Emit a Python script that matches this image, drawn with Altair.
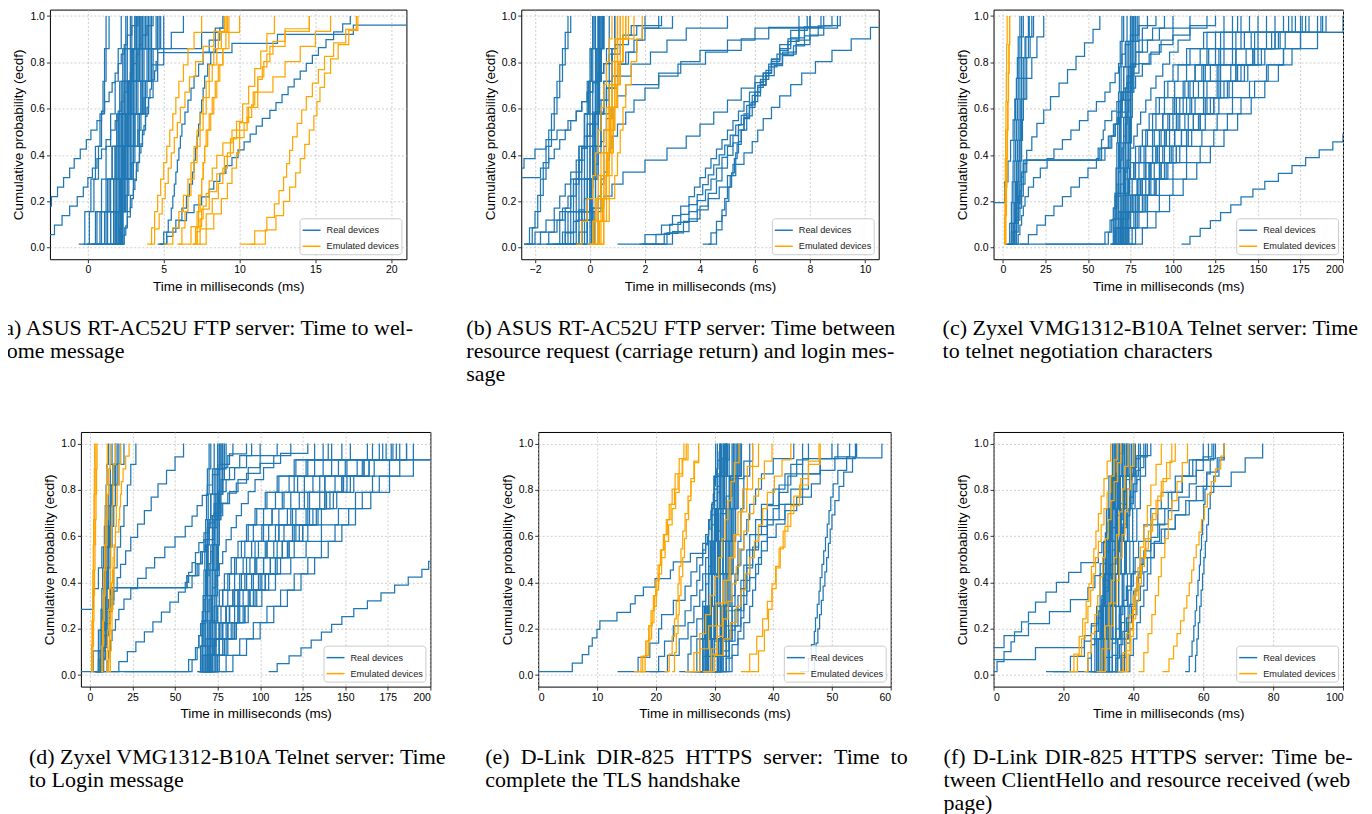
import altair as alt
import pandas as pd

KINDS = ["Real devices", "Emulated devices"]
COLORS = ["#1f77b4", "#ffa500"]
Y_TICKS = [0.0, 0.2, 0.4, 0.6, 0.8, 1.0]

# ---------------- (a) ----------------
A_REAL = [
    [-0.6, -0.2, 0.2, 0.5, 0.8, 1.0, 1.1, 1.2],
    [-0.3, 0.1, 0.4, 0.7, 0.9, 1.1, 1.2, 1.4],
    [0.0, 0.5, 0.9, 1.2, 1.5, 1.8, 2.0, 2.2],
    [0.3, 0.9, 1.3, 1.6, 1.9, 2.1, 2.3, 2.5],
    [0.6, 1.1, 1.5, 1.8, 2.0, 2.2, 2.4, 2.6],
    [0.9, 1.3, 1.7, 1.9, 2.1, 2.3, 2.5, 2.8],
    [1.2, 1.5, 1.8, 2.0, 2.2, 2.4, 2.6, 2.9],
    [1.4, 1.7, 1.9, 2.1, 2.3, 2.5, 2.8, 3.1],
    [1.6, 1.8, 2.0, 2.2, 2.4, 2.7, 3.0, 3.3],
    [1.8, 1.9, 2.1, 2.3, 2.5, 2.8, 3.1, 3.5],
    [2.0, 2.1, 2.2, 2.4, 2.6, 2.9, 3.2, 3.7],
    [2.1, 2.2, 2.2, 2.5, 2.8, 3.1, 3.5, 3.9],
    [2.2, 2.2, 2.3, 2.6, 2.9, 3.3, 3.7, 4.2],
    [2.2, 2.2, 2.4, 2.8, 3.1, 3.5, 3.9, 4.5],
    [2.2, 2.3, 2.5, 2.9, 3.3, 3.7, 4.2, 4.8],
    [1.0, 1.5, 1.9, 2.2, 2.5, 2.9, 3.3, 3.8],
    [0.2, 0.8, 1.4, 1.8, 2.2, 2.6, 3.0, 3.4],
    [1.9, 2.0, 2.2, 2.4, 2.7, 3.0, 3.4, 4.0],
    [2.2, 2.2, 2.3, 2.4, 2.6, 2.8, 3.0, 3.2],
    [2.1, 2.2, 2.3, 2.5, 2.7, 3.0, 3.3, 3.6],
    [2.2, 2.3, 2.6, 3.0, 3.4, 3.8, 4.3, 5.0],
    [1.5, 1.8, 2.1, 2.4, 2.8, 3.2, 3.6, 4.1],
    [0.5, 1.2, 1.7, 2.0, 2.3, 2.6, 2.9, 3.2],
    [1.7, 2.0, 2.2, 2.3, 2.5, 2.7, 2.9, 3.1],
    [2.2, 2.2, 2.2, 2.3, 2.5, 2.7, 3.0, 3.4],
    [-0.1, 0.6, 1.2, 1.6, 2.0, 2.4, 2.9, 3.5],
    [1.3, 1.9, 2.2, 2.6, 3.0, 3.5, 4.0, 4.6],
    [2.0, 2.2, 2.4, 2.7, 3.1, 3.6, 4.1, 4.7],
    [-4.0, -3.8, -3.5, -3.2, -2.8, -2.4, -2.0, -1.6, -1.2, -0.9, -0.5, -0.1, 0.2, 0.6, 0.9, 1.1, 1.4, 1.6, 1.8, 2.0, 2.2, 2.4, 2.6, 2.9, 3.3],
    [-3.5, -2.8, -2.2, -1.7, -1.2, -0.7, -0.3, 0.0, 0.3, 0.6, 0.9, 1.2, 1.5, 1.8, 2.0, 2.2, 2.4, 2.6, 2.8, 3.0, 3.2, 3.4, 3.6, 3.9, 4.3],
    [4.8, 5.2, 5.6, 6.0, 6.5, 7.0, 7.5, 8.0, 8.3, 8.7, 9.1, 9.5, 9.9, 10.3, 10.7, 11.1, 11.5, 12.0, 12.4, 12.8, 13.2, 13.6, 14.0, 14.4, 14.8, 15.2, 15.7, 16.2, 16.8, 17.3],
    [4.6, 5.0, 5.3, 5.5, 5.6, 5.7, 5.8, 5.9, 6.0, 6.1, 6.2, 6.4, 6.6, 6.8, 7.0, 7.3, 7.6, 8.0, 8.4, 8.9],
    [4.7, 5.2, 5.8, 6.2, 6.5, 6.7, 6.9, 7.0, 7.1, 7.2, 7.3, 7.4, 7.5, 7.6, 7.7, 7.9, 8.1, 8.4, 8.7, 9.0],
    [2.0, 2.3, 2.5, 2.6, 2.8, 2.9, 3.0, 3.1, 3.2, 3.3, 3.4, 3.5, 3.6, 3.7, 3.8, 3.9, 4.0, 4.1, 4.2, 4.4, 4.5, 4.6, 9.5, 12.5, 17.5, 30.0],
    [1.8, 2.1, 2.3, 2.5, 2.7, 2.9, 3.1, 3.3, 3.5, 3.7, 3.9, 4.2, 4.6, 7.5, 9.2],
    [2.2, 2.4, 2.6, 2.8, 3.0, 3.2, 3.4, 3.6, 3.8, 4.0, 4.3, 4.6, 5.0, 5.5, 6.3],
]
A_EMUL = [
    [3.9, 4.2, 4.4, 4.6, 4.8, 5.0, 5.2, 5.4, 5.6, 5.8, 6.0, 6.3, 6.6, 7.0, 7.5],
    [4.1, 4.4, 4.7, 4.9, 5.1, 5.3, 5.5, 5.7, 5.9, 6.1, 6.4, 6.7, 7.1, 7.6, 8.3, 9.0],
    [5.0, 5.6, 6.0, 6.3, 6.6, 6.8, 7.0, 7.2, 7.4, 7.6, 7.8, 8.0, 8.3, 8.6, 9.2],
    [5.9, 6.2, 6.4, 6.6, 6.8, 7.0, 7.2, 7.4, 7.6, 7.8, 8.0, 8.2, 8.5, 8.8, 9.1],
    [6.9, 7.1, 7.2, 7.3, 7.5, 7.6, 7.7, 7.8, 8.0, 8.2, 8.4, 8.6, 8.9, 9.3, 10.0],
    [7.0, 7.2, 7.3, 7.4, 7.5, 7.6, 7.7, 7.9, 8.1, 8.3, 8.5, 8.7, 8.9, 9.1, 9.3],
    [6.9, 7.2, 7.4, 7.6, 7.8, 8.0, 8.2, 8.5, 8.9, 9.5, 10.5, 10.8, 11.0, 11.2, 11.5, 11.8, 12.2, 13.0, 14.6],
    [10.0, 11.0, 11.8, 12.3, 12.6, 12.9, 13.1, 13.3, 13.5, 13.8, 14.1, 14.4, 14.8, 15.2, 15.6, 16.2, 17.0, 17.7],
    [10.7, 11.7, 12.4, 12.9, 13.3, 13.7, 14.0, 14.3, 14.6, 14.9, 15.1, 15.3, 15.6, 16.0, 16.5, 17.2, 17.8],
    [7.3, 7.8, 8.3, 8.8, 9.2, 9.5, 9.8, 10.0, 10.3, 10.6, 10.9, 11.2, 11.6, 12.0, 13.0, 14.6],
    [6.0, 6.8, 7.5, 8.0, 8.5, 9.0, 9.4, 9.8, 10.2, 10.6, 11.0, 11.4, 11.8, 12.3],
    [7.0, 7.4, 7.8, 8.2, 8.6, 8.9, 9.2, 9.6, 10.0, 10.5, 11.2, 12.2, 13.0, 14.0, 15.0, 16.0],
]

# ---------------- (b) ----------------
B_REAL = [
    [-1.2, -0.8, -0.5, -0.3, -0.2, -0.1, 0.0, 0.1],
    [-1.0, -0.6, -0.3, -0.1, 0.0, 0.1, 0.2, 0.3],
    [-0.8, -0.4, -0.2, 0.0, 0.1, 0.2, 0.3, 0.4],
    [-0.6, -0.3, -0.1, 0.1, 0.2, 0.3, 0.4, 0.5],
    [-0.4, -0.2, 0.0, 0.1, 0.2, 0.3, 0.4, 0.5],
    [-0.3, -0.1, 0.0, 0.1, 0.2, 0.3, 0.35, 0.4],
    [-0.2, -0.1, 0.0, 0.1, 0.15, 0.2, 0.25, 0.3],
    [-0.1, 0.0, 0.05, 0.1, 0.15, 0.2, 0.25, 0.3],
    [0.0, 0.05, 0.1, 0.15, 0.2, 0.25, 0.3, 0.35],
    [0.1, 0.15, 0.2, 0.25, 0.3, 0.35, 0.4, 0.45],
    [-1.3, -0.9, -0.6, -0.4, -0.2, 0.0, 0.1, 0.2],
    [-0.9, -0.5, -0.2, 0.0, 0.2, 0.3, 0.4, 0.5],
    [-0.5, -0.3, -0.1, 0.1, 0.3, 0.5, 0.7, 0.9],
    [-0.7, -0.3, 0.0, 0.2, 0.4, 0.6, 0.8, 1.0],
    [0.0, 0.1, 0.2, 0.3, 0.4, 0.5, 0.6, 0.7],
    [0.2, 0.3, 0.4, 0.5, 0.6, 0.7, 0.8, 0.9],
    [-1.6, -1.1, -0.7, -0.4, -0.2, -0.05, 0.05, 0.15],
    [-1.1, -0.7, -0.4, -0.2, -0.1, 0.0, 0.05, 0.1],
    [-2.4, -2.2, -2.0, -1.9, -1.8, -1.7, -1.6, -1.5, -1.4, -1.3, -1.2, -1.1, -1.0, -0.9, -0.8],
    [-2.3, -2.1, -1.9, -1.8, -1.7, -1.6, -1.5, -1.4, -1.3, -1.2, -1.1, -1.0, -0.9, -0.8, -0.7],
    [-4.5, -4.2, -4.0, -3.8, -3.5, -3.2, -3.0, -2.8, -2.6, -2.4, -2.0, -1.6, -1.2, -0.8, -0.5, -0.3, -0.1, 0.1, 0.3, 0.5, 0.8, 1.1, 1.4, 1.7, 2.0],
    [-4.4, -4.0, -3.7, -3.4, -3.1, -2.9, -2.7, -2.6, -1.8, -1.5, -1.3, -1.1, -0.9, -0.7, -0.5, -0.3, -0.1, 0.1, 0.3, 0.5, 0.7, 0.9, 1.2, 1.5, 2.6],
    [-2.3, -2.0, -1.6, -1.3, -1.1, -0.9, -0.7, -0.5, -0.3, -0.1, 0.1, 0.3, 0.5, 0.7, 0.9, 1.1, 1.4, 1.7, 2.0, 3.0],
    [-1.9, -1.5, -1.2, -0.9, -0.7, -0.5, -0.4, -0.3, -0.2, -0.1, 0.0, 0.2, 0.4, 0.6, 0.8, 1.0, 1.3, 1.6, 1.9, 2.5],
    [-2.4, -1.8, -1.3, -1.0, -0.8, -0.6, -0.5, -0.4, -0.3, -0.2, -0.1, 0.1, 0.3, 0.6, 1.0, 1.5, 2.2, 2.8, 3.5, 5.0],
    [-1.4, -0.9, -0.6, -0.4, -0.2, 0.0, 0.1, 0.2, 0.3, 0.4, 0.5, 0.6, 0.8, 1.0, 1.3, 2.5, 3.3, 4.0, 5.5, 6.5, 8.4],
    [-1.5, -1.0, -0.5, 0.0, 0.5, 0.8, 1.2, 2.0, 2.8, 3.5, 4.0, 4.5, 5.0, 5.5, 6.0, 6.5, 7.0, 7.5, 8.0, 9.0],
    [-0.8, -0.4, -0.1, 0.1, 0.3, 0.4, 0.5, 0.6, 0.7, 0.8, 1.0, 1.3, 1.6, 2.0, 2.5, 3.2, 4.2, 5.0, 6.0, 7.6],
    [1.0, 2.0, 2.6, 3.0, 3.3, 3.6, 3.8, 4.0, 4.2, 4.4, 4.6, 4.8, 5.0, 5.2, 5.4, 5.6, 5.8, 6.0, 6.3, 6.6, 7.0, 7.5, 8.0, 8.5, 9.1],
    [1.8, 2.4, 2.9, 3.3, 3.6, 3.9, 4.1, 4.3, 4.5, 4.7, 4.9, 5.1, 5.3, 5.5, 5.7, 5.9, 6.1, 6.4, 6.7, 7.0, 7.4, 7.8, 8.3, 8.8],
    [2.0, 2.7, 3.2, 3.6, 3.9, 4.2, 4.4, 4.6, 4.8, 5.0, 5.2, 5.4, 5.6, 5.8, 6.0, 6.2, 6.4, 6.6, 6.9, 7.3, 7.8, 8.5],
    [4.1, 4.4, 4.6, 4.8, 4.9, 5.0, 5.1, 5.2, 5.3, 5.4, 5.5, 5.6, 5.8, 6.0, 6.2, 6.4, 6.6, 6.9, 7.2, 7.6, 8.0],
    [4.3, 4.6, 4.8, 4.95, 5.05, 5.15, 5.25, 5.35, 5.5, 5.7, 5.9, 6.1, 6.3, 6.6, 6.9, 7.3, 7.9],
    [1.9, 2.8, 3.4, 3.9, 4.3, 4.7, 5.0, 5.3, 5.6, 5.9, 6.1, 6.3, 6.6, 6.9, 7.3, 7.7, 8.2, 8.8, 9.5, 10.2, 11.0],
    [2.2, 3.0, 3.6, 4.0, 4.3, 4.6, 4.8, 5.0, 5.2, 5.4, 5.6, 5.8, 6.0, 6.2, 6.5, 6.8, 7.2, 7.6, 8.0],
]
B_EMUL = [
    [-0.5, -0.3, -0.1, 0.1, 0.2, 0.3, 0.4, 0.5, 0.6, 0.7, 0.8],
    [0.0, 0.1, 0.2, 0.3, 0.4, 0.5, 0.6, 0.7, 0.8, 0.9, 1.0],
    [0.1, 0.2, 0.3, 0.4, 0.5, 0.6, 0.7, 0.8, 0.9, 1.0, 1.1],
    [0.2, 0.3, 0.4, 0.5, 0.6, 0.7, 0.8, 0.9, 1.0, 1.1, 1.3],
    [0.3, 0.4, 0.5, 0.6, 0.7, 0.8, 0.9, 1.0, 1.1, 1.2, 1.4],
    [0.3, 0.5, 0.7, 0.9, 1.0, 1.1, 1.2, 1.3, 1.5, 1.7, 1.9],
    [0.4, 0.5, 0.6, 0.7, 0.8, 0.85, 0.9, 1.0, 1.1, 1.2, 1.3],
    [0.2, 0.35, 0.5, 0.6, 0.65, 0.7, 0.75, 0.8, 0.9, 1.0, 1.2],
    [0.1, 0.3, 0.45, 0.55, 0.65, 0.75, 0.85, 0.95, 1.05, 1.2, 1.6],
    [-0.1, 0.1, 0.25, 0.4, 0.5, 0.6, 0.7, 0.8, 0.9, 1.0, 1.1],
]

# ---------------- (c) ----------------
C_REAL = [
    [1.0, 4.0, 5.0, 5.5, 6.0, 6.5, 7.0, 7.5, 8.0, 8.5, 9.0, 10.0],
    [3.0, 5.0, 6.0, 6.5, 7.0, 7.5, 8.0, 8.5, 9.0, 10.0, 11.0, 12.0],
    [5.0, 6.0, 7.0, 7.5, 8.0, 8.5, 9.0, 9.5, 10.0, 11.0, 13.0, 15.0],
    [6.0, 7.0, 8.0, 9.0, 9.5, 10.0, 10.5, 11.0, 12.0, 13.0, 15.0, 17.0],
    [7.0, 8.0, 9.0, 10.0, 10.5, 11.0, 11.5, 12.0, 13.0, 14.0, 16.0, 18.0],
    [-9, -8, -7, 1.0, 3.0, 4.5, 6.0, 7.0, 8.0, 9.0, 10.0, 11.0],
    [4.0, 6.0, 7.0, 8.0, 9.0, 10.0, 11.0, 12.0, 14.0, 17.0, 20.0, 24.0],
    [5.5, 6.5, 7.5, 8.5, 9.0, 9.5, 10.0, 10.5, 11.0, 12.0, 13.5, 15.5],
    [2, 5, 7, 8, 9, 10, 11, 12, 58, 62, 65, 67, 69, 71, 73, 75, 78, 82, 88, 95],
    [3, 6, 8, 9, 10, 11, 12, 13, 60, 64, 66, 68, 70, 72, 74, 76, 80, 85, 92, 100],
    [4, 7, 9, 10, 11, 12, 13, 14, 56, 63, 66, 69, 72, 75, 78, 82, 87, 93, 100, 110],
    [3, 62, 64, 65, 66, 67, 68, 69, 70, 71, 72, 73, 74, 75, 76, 77, 78, 80, 82, 85],
    [25, 60, 63, 65, 67, 69, 71, 73, 75, 77, 79, 81, 84, 87, 90, 94, 98, 103, 110, 120],
    [5, 7, 8, 9, 10, 11, 12, 14, 17, 20, 24, 28, 33, 38, 43, 48, 53, 57],
    [7, 9, 10, 11, 12, 13, 15, 18, 22, 26, 30, 35, 40, 45, 50, 55, 60, 63, 66, 68, 70, 72, 75, 80, 90],
    [10, 15, 20, 25, 30, 35, 40, 45, 50, 55, 57, 58, 59, 60, 64, 67, 70, 73, 76, 80, 86, 92, 100, 110, 125],
    [63, 65, 66, 67, 68, 68.5, 69, 69.5, 70, 71],
    [64, 66, 67, 68, 69, 69.5, 70, 71, 72, 73],
    [65, 67, 68, 69, 70, 71, 72, 73, 74, 75],
    [66, 68, 69, 70, 71, 72, 73, 74, 75, 76],
    [67, 69, 70, 71, 72, 73, 74, 75, 76, 78],
    [68, 70, 71, 72, 73, 74, 75, 76, 78, 80],
    [70, 71, 72, 73, 74, 75, 76, 77, 78, 79],
    [72, 73, 74, 74.5, 75, 75.5, 76, 76.5, 77, 78],
    [64, 65, 66, 66.5, 67, 67.5, 68, 68.5, 69, 70],
    [69, 70, 71, 71.5, 72, 72.5, 73, 74, 75, 77],
    [71, 72, 73, 73.5, 74, 74.5, 75, 75.5, 76, 77],
    [65, 66, 67, 68, 68.5, 69, 70, 71, 73, 76],
    [64, 66, 68, 70, 72, 75, 78, 82, 86, 90, 95, 100, 108, 118, 130],
    [65, 67, 69, 71, 74, 77, 81, 85, 90, 95, 101, 108, 116, 125, 140],
    [66, 68, 70, 73, 76, 80, 84, 89, 94, 100, 106, 113, 121, 130, 145],
    [67, 69, 72, 75, 79, 83, 88, 93, 98, 104, 110, 117, 125, 135, 150],
    [68, 70, 73, 77, 81, 86, 91, 96, 102, 108, 115, 122, 130, 140, 160],
    [69, 72, 75, 79, 84, 89, 95, 101, 107, 113, 120, 128, 137, 148, 170],
    [70, 73, 77, 82, 87, 93, 99, 105, 112, 119, 126, 134, 143, 155, 180],
    [71, 74, 78, 83, 89, 95, 102, 109, 116, 124, 132, 140, 150, 162, 187],
    [66, 68, 70, 72, 74, 77, 80, 84, 88, 92, 97, 103, 110, 120, 135],
    [68, 71, 74, 78, 82, 87, 92, 98, 104, 111, 118, 126, 135, 146, 165],
    [72, 76, 80, 85, 90, 96, 102, 108, 115, 122, 130, 138, 147, 158, 175],
    [64, 66, 68, 71, 74, 78, 83, 88, 94, 101, 109, 118, 128, 142, 190],
    [67, 70, 73, 76, 80, 84, 88, 92, 97, 102, 107, 113, 120, 128, 138],
    [70, 72, 75, 78, 82, 86, 90, 95, 100, 106, 112, 119, 127, 137, 155],
    [65, 68, 71, 75, 79, 84, 90, 96, 103, 110, 118, 127, 137, 150, 168],
    [67, 71, 75, 80, 86, 92, 98, 105, 112, 120, 128, 137, 147, 160, 178],
    [69, 73, 78, 84, 90, 97, 104, 111, 119, 127, 135, 144, 154, 166, 185],
    [66, 69, 72, 76, 81, 87, 94, 101, 109, 118, 127, 137, 148, 160, 172],
    [70, 74, 79, 85, 92, 100, 108, 117, 126, 135, 145, 155, 165, 175, 188],
    [68, 71, 75, 80, 86, 93, 100, 108, 116, 124, 133, 142, 152, 163, 176],
    [73, 78, 85, 92, 100, 108, 116, 124, 132, 140, 148, 156, 165, 175, 200],
    [75, 82, 90, 98, 106, 114, 122, 130, 138, 146, 154, 162, 170, 185, 215],
    [105, 110, 116, 122, 128, 134, 140, 147, 154, 162, 170, 178, 186, 194, 200, 210, 220, 230, 240, 250, 260, 270, 280, 290, 300, 310, 320, 330, 340, 350],
]
C_EMUL = [
    [0.8, 1.0, 1.2, 1.4, 1.6, 1.8, 2.0, 2.2, 2.5],
    [1.0, 1.3, 1.6, 2.0, 2.4, 2.8, 3.2, 3.6, 4.0],
    [1.5, 1.8, 2.1, 2.4, 2.7, 3.0, 3.3, 3.6, 3.9],
]

# ---------------- (d) ----------------
D_REAL = [
    [3, 5, 6, 6.5, 7, 7.5, 8, 8.5, 9, 9.5, 10, 11],
    [4, 6, 7, 7.5, 8, 8.5, 9, 9.5, 10, 11, 12, 13],
    [5, 7, 8, 8.5, 9, 9.5, 10, 10.5, 11, 12, 13.5, 15],
    [6, 8, 9, 9.5, 10, 10.5, 11, 11.5, 12, 13, 14.5, 16],
    [2, 7, 8, 9, 10, 11, 12, 13, 14, 15, 16, 18],
    [-9, -8, -7, -6, 2, 5, 7, 9, 11, 13, 15, 17],
    [4, 5, 8, 10, 12, 14, 16, 18, 20, 22, 24, 27],
    [-8, 2, 5, 7, 8, 9, 10, 11, 12, 13, 14, 15],
    [5, 6, 7, 8, 9, 10, 11, 12, 13, 15, 17, 20],
    [2, 5, 7, 8, 9, 10, 11, 12, 57, 62, 65, 67, 69, 71, 73, 75, 78, 82, 88, 95],
    [3, 6, 8, 9, 10, 11, 12, 13, 60, 64, 66, 68, 70, 72, 74, 76, 80, 85, 92, 100],
    [4, 7, 9, 10, 11, 12, 13, 14, 57, 63, 66, 69, 72, 75, 78, 82, 87, 93, 100, 110],
    [3, 60, 63, 64, 65, 66, 67, 68, 69, 70, 71, 72, 73, 74, 75, 76, 77, 79, 81, 84],
    [20, 58, 62, 64, 66, 68, 70, 72, 74, 76, 78, 80, 83, 86, 89, 93, 97, 102, 108, 118],
    [6, 8, 9, 10, 11, 12, 14, 16, 18, 21, 24, 28, 32, 36, 40, 45, 50, 55],
    [8, 10, 11, 12, 13, 15, 17, 20, 24, 28, 33, 38, 44, 50, 56, 60, 63, 66, 69, 72, 76, 82, 92],
    [12, 17, 22, 27, 32, 37, 42, 47, 52, 56, 58, 60, 62, 64, 67, 70, 73, 77, 81, 86, 92, 100, 112, 128],
    [63, 65, 66, 67, 68, 68.5, 69, 69.5, 70, 71],
    [64, 66, 67, 68, 69, 69.5, 70, 71, 72, 73],
    [65, 67, 68, 69, 70, 71, 72, 73, 74, 75],
    [66, 68, 69, 70, 71, 72, 73, 74, 75, 76],
    [67, 69, 70, 71, 72, 73, 74, 75, 76, 78],
    [68, 70, 71, 72, 73, 74, 75, 76, 78, 80],
    [70, 71, 72, 73, 74, 75, 76, 77, 78, 79],
    [72, 73, 74, 74.5, 75, 75.5, 76, 76.5, 77, 78],
    [64, 65, 66, 66.5, 67, 67.5, 68, 68.5, 69, 70],
    [69, 70, 71, 71.5, 72, 72.5, 73, 74, 75, 77],
    [71, 72, 73, 73.5, 74, 74.5, 75, 75.5, 76, 77],
    [65, 66, 67, 68, 68.5, 69, 70, 71, 73, 76],
    [64, 66, 68, 70, 73, 76, 79, 83, 87, 92, 97, 103, 110, 120, 132],
    [65, 67, 69, 72, 75, 78, 82, 86, 91, 96, 102, 109, 117, 127, 142],
    [66, 68, 71, 74, 77, 81, 85, 90, 95, 101, 107, 114, 122, 132, 148],
    [67, 70, 73, 76, 80, 84, 89, 94, 99, 105, 111, 118, 126, 137, 153],
    [68, 71, 74, 78, 82, 87, 92, 97, 103, 109, 116, 123, 131, 142, 163],
    [69, 72, 76, 80, 85, 90, 96, 102, 108, 114, 121, 129, 138, 150, 172],
    [70, 74, 78, 83, 88, 94, 100, 106, 113, 120, 127, 135, 144, 157, 182],
    [71, 75, 79, 84, 90, 96, 103, 110, 117, 125, 133, 141, 151, 164, 186],
    [66, 68, 70, 72, 75, 78, 81, 85, 89, 93, 98, 104, 111, 121, 137],
    [68, 71, 74, 78, 82, 87, 92, 98, 104, 111, 118, 126, 135, 146, 166],
    [72, 76, 81, 86, 91, 97, 103, 109, 116, 123, 131, 139, 148, 160, 177],
    [67, 70, 73, 76, 80, 84, 88, 92, 97, 102, 107, 113, 120, 128, 140],
    [65, 68, 72, 76, 80, 85, 91, 97, 104, 111, 119, 128, 138, 151, 170],
    [67, 71, 76, 81, 87, 93, 99, 106, 113, 121, 129, 138, 148, 161, 180],
    [69, 74, 79, 85, 91, 98, 105, 112, 120, 128, 136, 145, 155, 167, 186],
    [66, 69, 73, 77, 82, 88, 95, 102, 110, 119, 128, 138, 149, 161, 174],
    [70, 75, 80, 86, 93, 101, 109, 118, 127, 136, 146, 156, 166, 176, 190],
    [68, 72, 76, 81, 87, 94, 101, 109, 117, 125, 134, 143, 153, 164, 178],
    [74, 80, 88, 96, 104, 112, 120, 128, 136, 144, 152, 160, 170, 182, 205],
    [77, 84, 92, 100, 108, 116, 124, 132, 140, 148, 156, 165, 176, 190, 230],
    [105, 110, 117, 124, 130, 136, 142, 148, 155, 163, 171, 179, 187, 195, 199, 205, 215, 225, 235, 245, 255, 265, 275, 285, 295, 305, 315, 325, 335, 345],
]
D_EMUL = [
    [1.0, 1.2, 1.4, 1.6, 1.8, 2.0, 2.2, 2.4, 2.6, 2.8],
    [1.5, 1.8, 2.1, 2.4, 2.7, 3.0, 3.3, 3.6, 3.9, 4.2],
    [0.8, 1.0, 1.3, 1.6, 1.9, 2.2, 2.5, 2.8, 3.1, 3.5],
    [6.5, 7.0, 7.4, 7.8, 8.2, 8.6, 9.0, 9.4, 9.8, 10.2],
    [7.0, 7.5, 8.0, 8.5, 9.0, 9.5, 10.0, 10.5, 11.0, 12.0],
    [9.5, 10, 10.5, 11, 11.5, 12, 12.3, 12.6, 13, 13.5, 14, 15],
    [10.5, 11, 11.3, 11.6, 11.9, 12.2, 12.5, 12.8, 13.2, 13.6, 14.2, 15, 17, 17.5, 18, 18.5, 19.5, 21, 23],
    [11.5, 12, 12.5, 13, 13.5, 14, 14.5, 15, 15.5, 16, 17, 18],
]

# ---------------- (e) ----------------
E_REAL = [
    [25, 27, 28, 28.5, 29, 29.5, 30, 30.5],
    [26, 28, 28.5, 29, 29.5, 30, 30.5, 31],
    [27, 28.5, 29, 29.5, 30, 30.5, 31, 31.5],
    [28, 29, 29.5, 30, 30.5, 31, 31.5, 32],
    [28.5, 29.5, 30, 30.5, 31, 31.5, 32, 32.5],
    [29, 30, 30.5, 31, 31.5, 32, 32.5, 33],
    [29.5, 30.5, 31, 31.5, 32, 32.5, 33, 33.5],
    [30, 31, 31.5, 32, 32.5, 33, 33.5, 34],
    [31, 31.5, 32, 32.5, 33, 33.5, 34, 34.5],
    [27.5, 28.2, 28.6, 29, 29.3, 29.6, 29.9, 30.2],
    [28.2, 28.8, 29.2, 29.6, 30, 30.4, 30.8, 31.2],
    [29.8, 30.5, 31.2, 31.8, 32.3, 32.8, 33.3, 33.8],
    [26.5, 27.5, 28.3, 29, 29.7, 30.3, 31, 31.8],
    [32, 32.5, 33, 33.5, 34, 34.5, 35, 36],
    [28.8, 29.4, 29.9, 30.3, 30.7, 31.1, 31.6, 32.2],
    [30.5, 31.2, 31.8, 32.3, 32.8, 33.2, 33.7, 34.3],
    [27, 28, 28.8, 29.5, 30.1, 30.7, 31.3, 32],
    [28.5, 29, 29.3, 29.6, 29.9, 30.2, 30.5, 30.9],
    [29.2, 29.7, 30.1, 30.5, 30.9, 31.3, 31.7, 32.1],
    [30.2, 30.7, 31.1, 31.5, 31.9, 32.3, 32.7, 33.2],
    [28, 28.6, 29.1, 29.6, 30.1, 30.6, 31.1, 31.7],
    [31.5, 32, 32.4, 32.8, 33.2, 33.6, 34, 34.6],
    [29, 29.6, 30.2, 30.8, 31.4, 32, 32.6, 33.3],
    [27.8, 28.4, 29, 29.5, 30, 30.5, 31, 31.5],
    [30.8, 31.3, 31.7, 32.1, 32.5, 32.9, 33.4, 34],
    [25.5, 28, 30, 31, 32, 33, 33.5, 34, 34.5, 35, 35.5, 36, 37, 38, 40, 43.5],
    [27, 29.5, 31, 32, 33, 34, 34.5, 35, 35.5, 36, 37, 38, 40, 42, 45, 51],
    [29.5, 31, 32.5, 33.5, 34.5, 35, 35.5, 36, 36.5, 37.5, 39, 41, 43, 45, 48, 54],
    [30, 32, 33, 34, 34.5, 35, 35.5, 36, 37, 38, 39, 40.5, 42, 44, 46.5, 48, 50.5, 53],
    [30, 31, 32, 33, 34, 34.5, 35, 35.5, 36, 37, 38, 42, 45, 46, 48, 50],
    [31, 33, 34, 35, 36, 36.5, 37, 37.5, 38, 39, 40, 41, 42.5, 44, 46],
    [29, 31, 32.5, 33.5, 34.5, 35.5, 36.5, 37.5, 39, 41, 43, 45],
    [-2, 5.8, 7.5, 8.6, 9.2, 10.0, 10.5, 13.4, 15.7, 16.5, 17.9, 19.9, 22.5, 23.0, 25.9, 28.5, 28.8, 29.0, 29.2, 29.4, 29.6, 29.8, 30.0, 30.2, 30.4, 30.6, 30.8, 31.0],
    [13.5, 17, 19, 20.5, 21, 23, 25, 26, 27, 28, 29, 29.5, 30, 30.5, 31, 31.5, 32],
    [17.5, 20.5, 21.5, 23, 25, 26, 27, 27.5, 28, 28.5, 29, 29.5, 30, 30.5, 31, 32],
    [19, 22, 24, 25.5, 26.5, 27.5, 28, 28.5, 29, 29.5, 30, 30.5, 31, 31.5, 32.5],
    [24, 25.5, 26, 27, 28, 28.5, 29, 29.5, 30, 31, 32, 33, 35, 36.5],
    [44.5, 46.0, 46.5, 47.0, 47.2, 47.5, 47.8, 48.0, 48.3, 48.6, 48.9, 49.2, 49.5, 49.8, 50.2, 51, 52.5, 54.2],
    [46.5, 47, 47.3, 47.6, 47.9, 48.2, 48.5, 48.8, 49.1, 49.4, 49.7, 50.0, 50.5, 51.2, 52, 53.5, 58.5],
]
E_EMUL = [
    [16.3, 17.5, 18.3, 18.8, 19.2, 19.6, 20.0, 20.4, 20.8, 21.3, 21.8, 22.3, 22.8, 23.3, 24.0, 24.8],
    [16.8, 17.8, 18.5, 19.0, 19.4, 19.8, 20.2, 20.6, 21.0, 21.5, 22.0, 22.6, 23.2, 23.8, 24.5, 25.2],
    [17.3, 18.2, 18.8, 19.3, 19.7, 20.1, 20.5, 21.0, 21.6, 22.2, 22.8, 23.4, 24.0, 24.6, 25.5],
    [21.5, 22.3, 22.8, 23.2, 23.5, 23.8, 24.0, 24.3, 24.6, 25.0, 25.5, 26.0, 26.5, 27.3],
    [22.8, 23.2, 23.5, 23.8, 24.0, 24.3, 24.6, 24.9, 25.2, 25.6, 26.0, 26.6, 27.3],
    [25.0, 26.5, 27.5, 28.5, 29.3, 30.0, 30.7, 31.3, 31.8, 32.3, 32.8, 33.4, 34.2],
    [28.0, 29.5, 30.5, 31.5, 32.3, 33.0, 33.7, 34.3, 35.0, 35.8, 36.7, 37.5, 38.5, 39.8],
    [28.2, 30.0, 31.5, 32.7, 33.7, 34.5, 35.3, 36.0, 36.8, 37.5, 38.2, 39.0, 40.2, 41.5, 43.0],
    [34.5, 36.0, 37.2, 38.2, 39.0, 39.8, 40.4, 41.0, 41.7, 42.5, 43.5, 44.7, 46.0, 47.8],
    [35.5, 37.5, 38.5, 39.2, 39.8, 40.5, 41.2, 42.0, 43.0, 44.5, 46.0, 48.0],
    [25.5, 27.5, 29.0, 30.3, 31.5, 32.5, 33.5, 34.5, 35.5, 36.5, 37.5],
    [28.3, 29.5, 30.5, 31.3, 32.0, 32.7, 33.3, 34.0, 34.8, 35.6, 36.5],
]

# ---------------- (f) ----------------
F_REAL = [
    [26.5, 28, 29.5, 30.5, 31.5, 32.3, 33, 34],
    [27, 29, 30.5, 31.5, 32.3, 33, 33.8, 34.5],
    [28, 30, 31, 32, 32.8, 33.5, 34.3, 35],
    [29, 30.5, 31.5, 32.5, 33.3, 34, 34.8, 35.5],
    [30, 31.5, 32.5, 33.3, 34, 34.8, 35.5, 36.5],
    [30.5, 32, 33, 34, 34.8, 35.5, 36.3, 37],
    [31.5, 33, 34, 34.8, 35.5, 36.3, 37, 38],
    [32.5, 34, 35, 35.8, 36.5, 37.3, 38, 39],
    [33.5, 35, 36, 36.8, 37.5, 38.3, 39, 40],
    [35, 36.5, 37.5, 38.3, 39, 39.8, 40.5, 41.5],
    [36.5, 37.5, 38.5, 39.3, 40, 41, 42, 43.5],
    [27.5, 29.5, 31, 32, 33, 34, 35, 36],
    [29.5, 31, 32.2, 33.2, 34, 35, 36, 37.5],
    [31, 32.5, 33.5, 34.5, 35.5, 36.5, 37.5, 38.5],
    [28.5, 30, 31.2, 32.2, 33, 33.8, 34.6, 35.6],
    [32, 33.2, 34.2, 35, 35.8, 36.6, 37.4, 38.4],
    [34, 35.5, 36.5, 37.3, 38, 38.8, 39.6, 40.6],
    [29, 30, 31, 31.8, 32.5, 33.2, 34, 35],
    [30, 31, 32, 32.8, 33.5, 34.2, 35, 36],
    [31, 32, 33, 33.8, 34.5, 35.2, 36, 37],
    [32, 33, 34, 34.8, 35.5, 36.2, 37, 38],
    [33, 34, 35, 35.8, 36.5, 37.2, 38, 39.5],
    [28, 29.5, 30.5, 31.3, 32, 32.8, 33.6, 34.5],
    [34.5, 35.5, 36.3, 37, 37.7, 38.4, 39.2, 40.2],
    [30.5, 31.5, 32.4, 33.2, 34, 34.8, 35.7, 36.8],
    [32, 34, 35.5, 36.5, 37.5, 38.5, 39.5, 40.5, 41.5, 43, 45, 48, 52, 56, 60],
    [35, 36.5, 37.5, 38.5, 39.5, 40.5, 41.5, 42.5, 43.5, 45, 47, 50, 54, 58, 63],
    [38, 39, 40, 41, 42, 43, 44, 45, 46, 47.5, 49, 51, 54, 57, 61.5],
    [30, 32, 34, 35, 36, 37, 38, 40, 42, 45, 48, 52, 56, 60, 68, 72, 77],
    [33, 35, 36, 37, 38, 39, 40, 41, 42, 43, 45, 47, 50, 53, 56, 58, 60, 62.5],
    [35, 37, 38, 39, 40, 41, 42, 43, 44, 46, 49, 52, 55, 58, 61, 64, 66],
    [-3, 1, 3, 5, 6, 8, 10, 12, 15, 18, 21.5, 25, 30, 31, 32, 32.5, 33, 33.5, 34, 34.5, 35, 35.5, 36, 37],
    [-6, -5, 12, 26, 28, 30, 31, 32, 33, 34, 35, 36, 37, 38, 39, 40, 41, 42, 43, 45],
    [-6, -4, -2, 3, 10, 16, 22, 27, 29, 30.5, 32, 33, 34, 35, 36, 37, 38, 39.5, 41, 43],
    [15, 27, 28, 29, 30, 31, 32, 33, 34, 35, 36, 37, 38, 39, 40, 41, 42, 44],
    [17, 22, 26, 28, 29.5, 31, 32, 33, 34, 35, 36, 37, 38, 39, 40.5, 42],
    [54.8, 56, 56.8, 57.3, 57.7, 58.1, 58.5, 58.9, 59.2, 59.5, 59.8, 60.1, 60.5, 61, 62, 63.5],
    [57.4, 57.8, 58.2, 58.6, 59, 59.4, 59.8, 60.2, 60.6, 61, 61.5, 62, 63, 64.5, 66],
]
F_EMUL = [
    [21.5, 23, 24.5, 25.5, 26.5, 27.3, 28, 28.7, 29.3, 30, 30.8, 31.6, 32.5, 33.5],
    [22.8, 24, 25.2, 26.2, 27, 27.8, 28.5, 29.2, 30, 30.8, 31.6, 32.5, 33.5, 34.5, 35.5],
    [26, 27, 28, 29, 29.8, 30.5, 31.2, 32, 32.8, 33.6, 34.5, 35.5, 36.5],
    [29.5, 31, 32, 33, 33.8, 34.5, 35.2, 36, 36.8, 37.5, 38.5],
    [30.5, 32, 33.3, 34.3, 35.2, 36, 36.8, 37.6, 38.4, 39.2, 40.2],
    [37, 38, 39, 39.8, 40.5, 41.3, 42, 43, 44, 45, 46.5, 48],
    [37.5, 38.5, 39.3, 40, 40.7, 41.5, 42.3, 43.2, 44.3, 45.5, 47, 48.5, 50.5, 52],
    [41.5, 43, 44.2, 45.3, 46.3, 47.2, 48, 49, 50, 51, 52.5, 54, 55.5],
    [48.3, 50.2, 51.5, 52.5, 53.5, 54.5, 55.3, 56, 56.7, 57.3, 58, 58.8, 59.5, 60.3, 61.2, 62.3, 63.5, 65, 66],
    [35.5, 37, 38, 39, 40, 41, 42, 43.5, 45, 46.5, 48, 49.5, 51],
]

# ---------------- captions and axes ----------------
CAP_A = ["(a) ASUS RT-AC52U FTP server: Time to wel-", "come message"]
CAP_B = ["(b) ASUS RT-AC52U FTP server: Time between",
         "resource request (carriage return) and login mes-", "sage"]
CAP_C = ["(c) Zyxel VMG1312-B10A Telnet server: Time", "to telnet negotiation characters"]
CAP_D = ["(d) Zyxel VMG1312-B10A Telnet server: Time", "to Login message"]
CAP_E = ["(e) D-Link DIR-825 HTTPS server: Time to", "complete the TLS handshake"]
CAP_F = ["(f) D-Link DIR-825 HTTPS server: Time be-",
         "tween ClientHello and resource received (web", "page)"]

X_DOMAINS = {"a": [-2.5, 21], "b": [-2.5, 10.5], "c": [-5.5, 200],
             "d": [-5.3, 200], "e": [0, 60], "f": [0, 100]}
X_TICKS = {"a": [0, 5, 10, 15, 20], "b": [-2, 0, 2, 4, 6, 8, 10],
           "c": [0, 25, 50, 75, 100, 125, 150, 175, 200],
           "d": [0, 25, 50, 75, 100, 125, 150, 175, 200],
           "e": [0, 10, 20, 30, 40, 50, 60], "f": [0, 20, 40, 60, 80, 100]}

# layout (pixel) settings
WIDTHS = {"a": 357, "b": 358, "c": 350, "d": 350, "e": 353, "f": 350}
CAP_DX = {"a": -53, "b": -55, "c": -51, "d": -52, "e": -53, "f": -50}
GAPS_ROW1 = [1, 115, 115]
GAPS_ROW2 = [32, 108, 103]
ANCHOR_X = -54
# row 1 sits against the page's top margin, so its frame is a little shorter
ROW1 = {"h": 250, "ydom": [-0.05, 1.028], "cap_y": 326}
ROW2 = {"h": 255, "ydom": [-0.05, 1.05], "cap_y": 333}
# extra spacing characters per word gap, mimicking the justified caption lines
CAP_GAPS = {"e": ["\u2006\u200a"], "f": ["\u200a"]}


def justify(lines, gaps):
    out = []
    for i, line in enumerate(lines):
        g = gaps[i] if i < len(gaps) else ""
        out.append((" " + g).join(line.split(" ")) if g else line)
    return out


def make_panel(key, real, emul, caption, row):
    rows = []
    for i, s in enumerate(real):
        for t in s:
            rows.append({"sid": f"{key}r{i:02d}", "kind": KINDS[0], "t": t})
    for i, s in enumerate(emul):
        for t in s:
            rows.append({"sid": f"{key}e{i:02d}", "kind": KINDS[1], "t": t})
    df = pd.DataFrame(rows)

    lines = alt.Chart(df).transform_window(
        rank="row_number()", groupby=["sid"], sort=[alt.SortField("t", order="ascending")]
    ).transform_joinaggregate(
        n="count()", groupby=["sid"]
    ).transform_calculate(
        y="(datum.rank - 1) / (datum.n - 1) * 0.985 + 0.015"
    ).mark_line(interpolate="step-after", clip=True, strokeWidth=1.25).encode(
        x=alt.X("t:Q", scale=alt.Scale(domain=X_DOMAINS[key], nice=False, zero=False),
                axis=alt.Axis(values=X_TICKS[key], format="d", title="Time in milliseconds (ms)")),
        y=alt.Y("y:Q", scale=alt.Scale(domain=row["ydom"], nice=False, zero=False),
                axis=alt.Axis(values=Y_TICKS, format=".1f", title="Cumulative probability (ecdf)")),
        color=alt.Color("kind:N", scale=alt.Scale(domain=KINDS, range=COLORS),
                        legend=alt.Legend(title=None, orient="bottom-right", offset=5,
                                          fillColor="rgba(255,255,255,0.85)", strokeColor="#cccccc",
                                          cornerRadius=3, padding=2, symbolType="stroke",
                                          symbolSize=324, symbolStrokeWidth=1.5, rowPadding=-4,
                                          labelFont="Liberation Sans", labelFontSize=9.2,
                                          labelColor="#222222", labelOffset=5)),
        detail="sid:N",
        order=alt.Order("rank:Q"),
    )
    cap_text = justify(caption, CAP_GAPS.get(key, []))
    cap = alt.Chart(pd.DataFrame({"k": [0]})).mark_text(
        text=cap_text, align="left", baseline="alphabetic", font="Liberation Serif",
        fontSize=22, lineHeight=23, color="black"
    ).encode(x=alt.value(CAP_DX[key]), y=alt.value(row["cap_y"]))
    return alt.layer(lines, cap).properties(width=WIDTHS[key], height=row["h"])


def gap(w, h, y0=0, y1=0, ax=0):
    """Invisible spacer cell; its hidden rule fixes the row's layout bounds."""
    return alt.Chart(pd.DataFrame({"k": [0]})).mark_rule(opacity=0, strokeWidth=1).encode(
        x=alt.value(ax), y=alt.value(y0), y2=alt.value(y1)
    ).properties(width=w, height=h, view=alt.ViewBackground(stroke="transparent"))


def indep(c):
    return c.resolve_scale(color="independent").resolve_legend(color="independent")


pa = make_panel("a", A_REAL, A_EMUL, CAP_A, ROW1)
pb = make_panel("b", B_REAL, B_EMUL, CAP_B, ROW1)
pc = make_panel("c", C_REAL, C_EMUL, CAP_C, ROW1)
pd_ = make_panel("d", D_REAL, D_EMUL, CAP_D, ROW2)
pe = make_panel("e", E_REAL, E_EMUL, CAP_E, ROW2)
pf = make_panel("f", F_REAL, F_EMUL, CAP_F, ROW2)

h1, h2 = ROW1["h"], ROW2["h"]
row1 = indep(alt.hconcat(gap(GAPS_ROW1[0], h1, 0, 400, ANCHOR_X), pa, gap(GAPS_ROW1[1], h1), pb,
                         gap(GAPS_ROW1[2], h1), pc, spacing=0, bounds="flush"))
row2 = indep(alt.hconcat(gap(GAPS_ROW2[0], h2, -20, 0, ANCHOR_X), pd_, gap(GAPS_ROW2[1], h2), pe,
                         gap(GAPS_ROW2[2], h2), pf, spacing=0, bounds="flush"))

chart = indep(alt.vconcat(row1, row2, spacing=1)).properties(
    padding={"left": -14, "top": 0, "right": 2, "bottom": 2}
).configure_view(
    stroke="black", strokeWidth=1
).configure_axis(
    labelFont="Liberation Sans", labelFontSize=10.5, labelColor="black",
    titleFont="Liberation Sans", titleFontSize=13.5, titleFontWeight="normal", titleColor="black",
    tickColor="black", tickSize=3.5, tickWidth=0.8, domain=False,
    gridColor="#b8b8b8", gridDash=[2, 2], gridWidth=0.7, labelPadding=2, titlePadding=4,
)

chart.save("out.html", embed_options={"renderer": "svg", "actions": False})
